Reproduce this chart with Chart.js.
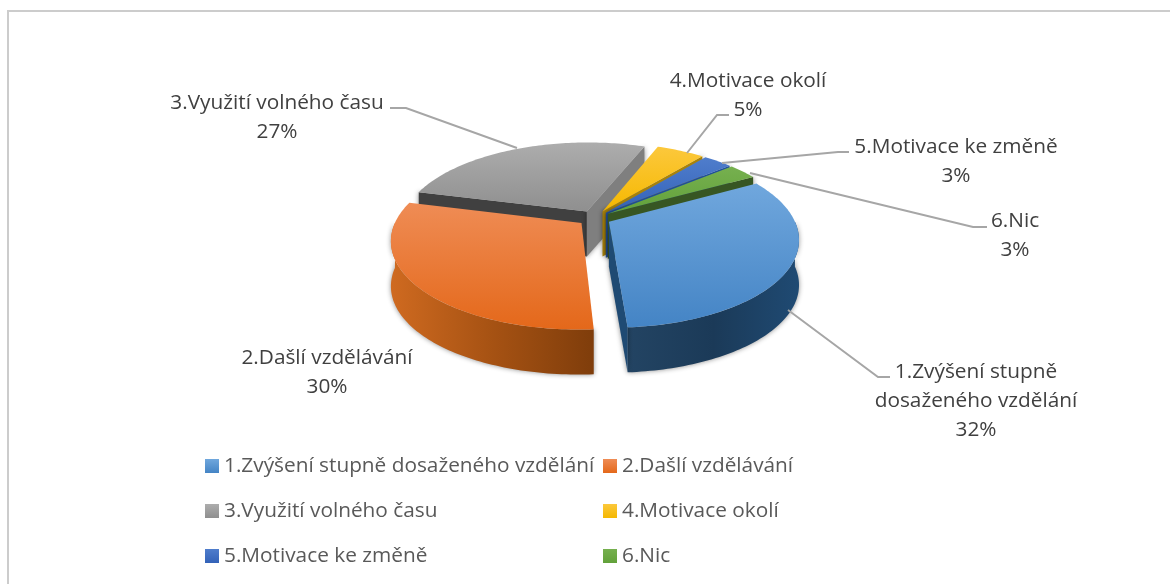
<!DOCTYPE html>
<html>
<head>
<meta charset="utf-8">
<title>Pie</title>
<script src="https://cdn.jsdelivr.net/npm/chart.js@4/dist/chart.umd.min.js"></script>
<style>
  html, body { margin: 0; padding: 0; background: #fff; overflow: hidden; }
  #frame { position: absolute; left: 7px; top: 10px; width: 1200px; height: 600px; border: 2px solid #cccccc; }
  #myChart { position: absolute; left: 0; top: 0; }
</style>
</head>
<body>
<div id="frame"></div>
<canvas id="myChart" width="1170" height="584"></canvas>
<script>
// data
const categories = ['1.Zvýšení stupně dosaženého vzdělání', '2.Dašlí vzdělávání', '3.Využití volného času', '4.Motivace okolí', '5.Motivace ke změně', '6.Nic'];
const values = [32, 30, 27, 5, 3, 3];

// looks
const topColors = [['#70a7dd', '#4484c5'], ['#ef8c55', '#e4681a'], ['#adadad', '#8f8f8f'], ['#fcc83c', '#f5b800'], ['#4f7dcc', '#3362b8'], ['#76b04f', '#62a13a']];
const wallColors = [['#1f4a73', '#1b3a58', '#234463'], ['#cf6a20', '#a65213', '#7f3d0b'], ['#6e6e6e', '#6e6e6e', '#6e6e6e'], ['#a07c00', '#a07c00', '#a07c00'], ['#254d96', '#254d96', '#254d96'], ['#375623', '#375623', '#375623']];
const startFace = ['#1f4a73', '#7f3d0b', '#404040', '#a07c00', '#254d96', '#375623'];
const endFace = ['#1f4a73', '#7f3d0b', '#7f7f7f', '#a8820a', '#1f4f9a', '#375623'];

const R = 184.5, tilt = 0.457, persp = 0.19, depth = 45;

const labelLayout = [
  { lines: ['1.Zvýšení stupně', 'dosaženého vzdělání', '32%'], x: 976, y: 372, leader: [[788, 310], [878, 377], [890, 377]] },
  { lines: ['2.Dašlí vzdělávání', '30%'], x: 327, y: 358, leader: null },
  { lines: ['3.Využití volného času', '27%'], x: 277, y: 103, leader: [[517, 148], [406, 108], [390, 108]] },
  { lines: ['4.Motivace okolí', '5%'], x: 748, y: 81, leader: [[687, 153], [717, 115], [729, 115]] },
  { lines: ['5.Motivace ke změně', '3%'], x: 956, y: 147, leader: [[722, 163], [838, 152], [849, 152]] },
  { lines: ['6.Nic', '3%'], x: 1015, y: 221, leader: [[750, 173], [973, 227], [987, 227]] }
];
const legendCols = [205, 603], legendRows = [466, 511, 556];

const FONT = '20.8px "Open Sans"';

// a point of the flat pie -> point on the tilted pie
function project(arc, u, v, down) {
  const s = 1 / (1 - persp * v / R);
  return [arc.x + u * s, arc.y + tilt * v * s + (down || 0)];
}

function slicePoints(arc, a0, a1, down) {
  const mid = (arc.startAngle + arc.endAngle) / 2;
  const off = arc.options.offset / 4;
  const ox = Math.cos(mid) * off, oy = Math.sin(mid) * off;
  const pts = [];
  const n = Math.max(2, Math.ceil((a1 - a0) / 0.02));
  for (let i = 0; i <= n; i++) {
    const a = a0 + (a1 - a0) * i / n;
    pts.push(project(arc, ox + R * Math.cos(a), oy + R * Math.sin(a), down));
  }
  return { pts, apex: project(arc, ox, oy, down) };
}

function tracePath(ctx, pts) {
  ctx.beginPath();
  pts.forEach((p, i) => i ? ctx.lineTo(p[0], p[1]) : ctx.moveTo(p[0], p[1]));
  ctx.closePath();
}

function drawFace(ctx, arc, angle, color) {
  const a = slicePoints(arc, angle, angle, 0), b = slicePoints(arc, angle, angle, depth);
  ctx.fillStyle = color;
  tracePath(ctx, [a.apex, a.pts[0], b.pts[0], b.apex]);
  ctx.fill();
}

const pie3d = {
  id: 'pie3d',
  beforeDatasetsDraw(chart) {
    const ctx = chart.ctx;
    const arcs = chart.getDatasetMeta(0).data;
    // back slices first
    const order = arcs.map((a, i) => i).sort((i, j) => {
      const mi = (arcs[i].startAngle + arcs[i].endAngle) / 2, mj = (arcs[j].startAngle + arcs[j].endAngle) / 2;
      return Math.sin(mi) - Math.sin(mj);
    });
    order.forEach(i => {
      const arc = arcs[i];
      const a0 = arc.startAngle, a1 = arc.endAngle;
      ctx.save();
      ctx.shadowColor = 'rgba(0,0,0,0.45)';
      ctx.shadowBlur = 5;
      // outer wall, only the part that faces the viewer
      for (let k = -1; k <= 1; k++) {
        const w0 = Math.max(a0, 2 * Math.PI * k), w1 = Math.min(a1, 2 * Math.PI * k + Math.PI);
        if (w1 <= w0) continue;
        const t = slicePoints(arc, w0, w1, 0).pts, b = slicePoints(arc, w0, w1, depth).pts;
        const xs = t.map(p => p[0]);
        const g = ctx.createLinearGradient(Math.min(...xs), 0, Math.max(...xs), 0);
        const wc = wallColors[i];
        // wall stops run with the angle, so flip for slices on the right
        const left = Math.cos((w0 + w1) / 2) < 0;
        const cols = left ? wc : wc.slice().reverse();
        g.addColorStop(0, cols[0]); g.addColorStop(0.5, cols[1]); g.addColorStop(1, cols[2]);
        ctx.fillStyle = g;
        tracePath(ctx, t.concat(b.reverse()));
        ctx.fill();
      }
      if (Math.cos(a0) < 0) drawFace(ctx, arc, a0, startFace[i]);
      if (Math.cos(a1) > 0) drawFace(ctx, arc, a1, endFace[i]);
      ctx.restore();

      const s = slicePoints(arc, a0, a1, 0);
      const all = s.pts.concat([s.apex]);
      const ys = all.map(p => p[1]);
      const g = ctx.createLinearGradient(0, Math.min(...ys), 0, Math.max(...ys));
      g.addColorStop(0, topColors[i][0]);
      g.addColorStop(1, topColors[i][1]);
      ctx.fillStyle = g;
      tracePath(ctx, all);
      ctx.fill();
    });
    return false;
  },
  afterDraw(chart) {
    const ctx = chart.ctx;
    ctx.save();
    ctx.font = FONT;
    ctx.textBaseline = 'middle';
    // leader lines
    ctx.strokeStyle = '#a6a6a6';
    ctx.lineWidth = 2;
    labelLayout.forEach(l => {
      if (!l.leader) return;
      ctx.beginPath();
      l.leader.forEach((p, i) => i ? ctx.lineTo(p[0], p[1]) : ctx.moveTo(p[0], p[1]));
      ctx.stroke();
    });
    // labels
    ctx.fillStyle = '#404040';
    ctx.textAlign = 'center';
    labelLayout.forEach(l => {
      l.lines.forEach((t, i) => ctx.fillText(t, l.x, l.y + i * 29));
    });
    // legend, two columns
    ctx.textAlign = 'left';
    categories.forEach((c, i) => {
      const x = legendCols[i % 2], y = legendRows[Math.floor(i / 2)];
      const g = ctx.createLinearGradient(0, y - 7, 0, y + 7);
      g.addColorStop(0, topColors[i][0]);
      g.addColorStop(1, topColors[i][1]);
      ctx.fillStyle = g;
      ctx.fillRect(x, y - 7, 14, 14);
      ctx.fillStyle = '#595959';
      ctx.fillText(c, x + 19, y);
    });
    ctx.restore();
  }
};

new Chart(document.getElementById('myChart'), {
  type: 'pie',
  data: {
    labels: categories,
    datasets: [{
      data: values,
      offset: 66,
      borderWidth: 0
    }]
  },
  options: {
    responsive: false,
    animation: false,
    rotation: 61,
    radius: R,
    layout: { padding: { left: 18.6, right: 0, top: 0, bottom: 148 } },
    plugins: { legend: { display: false }, tooltip: { enabled: false } }
  },
  plugins: [pie3d]
});
</script>
</body>
</html>
